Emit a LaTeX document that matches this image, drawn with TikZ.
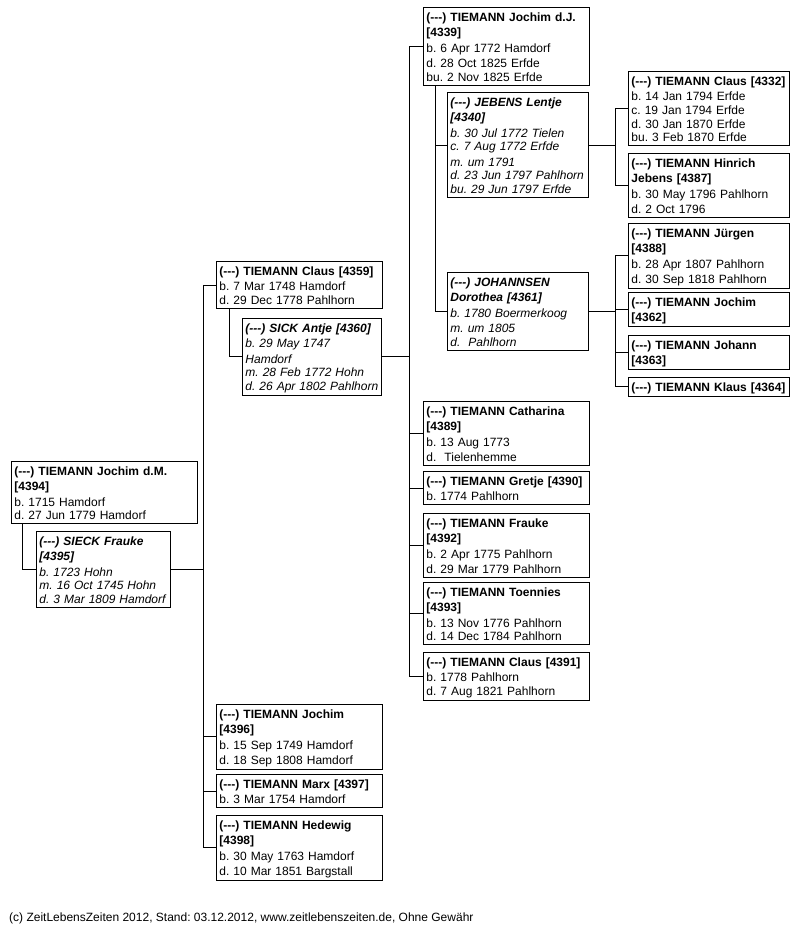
\documentclass[tikz,border=0pt]{standalone}
\usepackage{fontspec}
\setmainfont{Liberation Sans}
\frenchspacing
\hyphenpenalty=10000\relax
\newcommand{\zs}{\rule[-1.85pt]{0pt}{13.7pt}}
\newcommand{\dd}{(-{}-{}-)}
\newcommand{\nm}[1]{\textbf{#1}}
\newcommand{\sn}[1]{\textbf{\textit{#1}}}
\newcommand{\boxfnt}{\fontsize{12pt}{13.7pt}\selectfont\frenchspacing}
\tikzset{
  pbox/.style={draw, line width=0.9pt, anchor=north west, inner xsep=3pt, inner ysep=2.15pt,
    align=left, font=\boxfnt, text width=#1-6pt},
  spbox/.style={pbox=#1, font=\boxfnt\itshape},
  link/.style={line width=0.9pt}
}
\begin{document}
\begin{tikzpicture}[x=1pt,y=-1pt]
\useasboundingbox (0,0) rectangle (802,935);
% generation 1
\node[pbox=186pt] (A) at (11,461) {\zs\nm{\dd{} TIEMANN Jochim d.M.}\\\zs\nm{[4394]}\\\zs b. 1715 Hamdorf\\\zs d. 27 Jun 1779 Hamdorf};
\node[spbox=134pt] (B) at (36,531) {\zs\sn{\dd{} SIECK Frauke}\\\zs\sn{[4395]}\\\zs b. 1723 Hohn\\\zs m. 16 Oct 1745 Hohn\\\zs d. 3 Mar 1809 Hamdorf};
% generation 2
\node[pbox=166pt] (C) at (216,261) {\zs\nm{\dd{} TIEMANN Claus [4359]}\\\zs b. 7 Mar 1748 Hamdorf\\\zs d. 29 Dec 1778 Pahlhorn};
\node[spbox=139pt] (D) at (242,318) {\zs\sn{\dd{} SICK Antje [4360]}\\\zs b. 29 May 1747\\\zs Hamdorf\\\zs m. 28 Feb 1772 Hohn\\\zs d. 26 Apr 1802 Pahlhorn};
\node[pbox=166pt] (S) at (216,704) {\zs\nm{\dd{} TIEMANN Jochim}\\\zs\nm{[4396]}\\\zs b. 15 Sep 1749 Hamdorf\\\zs d. 18 Sep 1808 Hamdorf};
\node[pbox=166pt] (T) at (216,774) {\zs\nm{\dd{} TIEMANN Marx [4397]}\\\zs b. 3 Mar 1754 Hamdorf};
\node[pbox=166pt] (U) at (216,815) {\zs\nm{\dd{} TIEMANN Hedewig}\\\zs\nm{[4398]}\\\zs b. 30 May 1763 Hamdorf\\\zs d. 10 Mar 1851 Bargstall};
% generation 3
\node[pbox=166pt] (E) at (423,7) {\zs\nm{\dd{} TIEMANN Jochim d.J.}\\\zs\nm{[4339]}\\\zs b. 6 Apr 1772 Hamdorf\\\zs d. 28 Oct 1825 Erfde\\\zs bu. 2 Nov 1825 Erfde};
\node[spbox=141pt] (F) at (447,92) {\zs\sn{\dd{} JEBENS Lentje}\\\zs\sn{[4340]}\\\zs b. 30 Jul 1772 Tielen\\\zs c. 7 Aug 1772 Erfde\\\zs m. um 1791\\\zs d. 23 Jun 1797 Pahlhorn\\\zs bu. 29 Jun 1797 Erfde};
\node[spbox=141pt] (G) at (447,272) {\zs\sn{\dd{} JOHANNSEN}\\\zs\sn{Dorothea [4361]}\\\zs b. 1780 Boermerkoog\\\zs m. um 1805\\\zs d.~~Pahlhorn};
\node[pbox=166pt] (N) at (423,401) {\zs\nm{\dd{} TIEMANN Catharina}\\\zs\nm{[4389]}\\\zs b. 13 Aug 1773\\\zs d.~~Tielenhemme};
\node[pbox=166pt] (O) at (423,471) {\zs\nm{\dd{} TIEMANN Gretje [4390]}\\\zs b. 1774 Pahlhorn};
\node[pbox=166pt] (P) at (423,513) {\zs\nm{\dd{} TIEMANN Frauke}\\\zs\nm{[4392]}\\\zs b. 2 Apr 1775 Pahlhorn\\\zs d. 29 Mar 1779 Pahlhorn};
\node[pbox=166pt] (Q) at (423,582) {\zs\nm{\dd{} TIEMANN Toennies}\\\zs\nm{[4393]}\\\zs b. 13 Nov 1776 Pahlhorn\\\zs d. 14 Dec 1784 Pahlhorn};
\node[pbox=166pt] (R) at (423,652) {\zs\nm{\dd{} TIEMANN Claus [4391]}\\\zs b. 1778 Pahlhorn\\\zs d. 7 Aug 1821 Pahlhorn};
% generation 4
\node[pbox=161pt] (H) at (628,71) {\zs\nm{\dd{} TIEMANN Claus [4332]}\\\zs b. 14 Jan 1794 Erfde\\\zs c. 19 Jan 1794 Erfde\\\zs d. 30 Jan 1870 Erfde\\\zs bu. 3 Feb 1870 Erfde};
\node[pbox=161pt] (I) at (628,153) {\zs\nm{\dd{} TIEMANN Hinrich}\\\zs\nm{Jebens [4387]}\\\zs b. 30 May 1796 Pahlhorn\\\zs d. 2 Oct 1796};
\node[pbox=161pt] (J) at (628,223) {\zs\nm{\dd{} TIEMANN Jürgen}\\\zs\nm{[4388]}\\\zs b. 28 Apr 1807 Pahlhorn\\\zs d. 30 Sep 1818 Pahlhorn};
\node[pbox=161pt] (K) at (628,292) {\zs\nm{\dd{} TIEMANN Jochim}\\\zs\nm{[4362]}};
\node[pbox=161pt] (L) at (628,335) {\zs\nm{\dd{} TIEMANN Johann}\\\zs\nm{[4363]}};
\node[pbox=161pt] (M) at (628,377) {\zs\nm{\dd{} TIEMANN Klaus [4364]}};
% trunk coordinates
\coordinate (x1) at (203,0);
\coordinate (x2) at (409,0);
\coordinate (x3) at (615,0);
% couple links
\draw[link] (A.south -| 22,0) |- (B.west);
\draw[link] (C.south -| 229,0) |- (D.west);
\draw[link] (E.south -| 435,0) |- (F.west);
\draw[link] (E.south -| 435,0) |- (G.west);
% family 1
\draw[link] (B.east) -- (B.east -| x1);
\draw[link] (C.west -| x1) -- (U.west -| x1);
\foreach \c in {C,S,T,U} \draw[link] (\c.west -| x1) -- (\c.west);
% family 2
\draw[link] (D.east) -- (D.east -| x2);
\draw[link] (E.west -| x2) -- (R.west -| x2);
\foreach \c in {E,N,O,P,Q,R} \draw[link] (\c.west -| x2) -- (\c.west);
% family 3
\draw[link] (F.east) -- (F.east -| x3);
\draw[link] (H.west -| x3) -- (I.west -| x3);
\foreach \c in {H,I} \draw[link] (\c.west -| x3) -- (\c.west);
% family 4
\draw[link] (G.east) -- (G.east -| x3);
\draw[link] (J.west -| x3) -- (M.west -| x3);
\foreach \c in {J,K,L,M} \draw[link] (\c.west -| x3) -- (\c.west);
% footer
\node[anchor=base west, inner sep=0pt, font=\boxfnt] (foot) at (9,921) {(c) ZeitLebensZeiten 2012, Stand: 03.12.2012, www.zeitlebenszeiten.de, Ohne Gewähr};
\end{tikzpicture}
\end{document}
